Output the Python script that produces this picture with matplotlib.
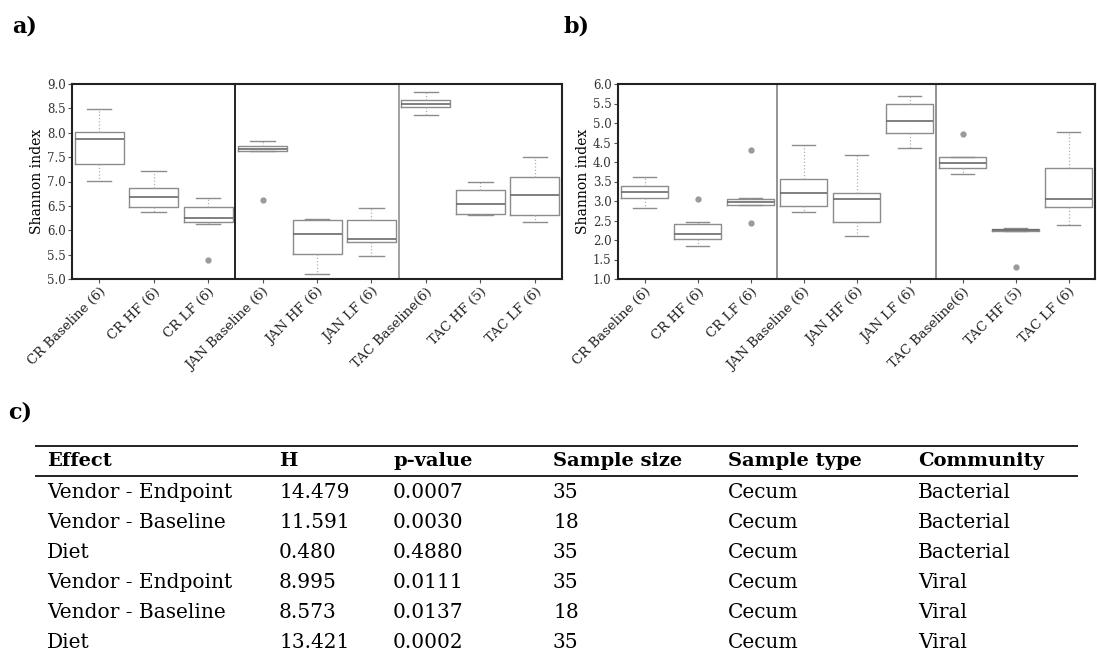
import matplotlib
matplotlib.use("Agg")
import matplotlib.pyplot as plt
from matplotlib.lines import Line2D

plt.rcParams['font.family'] = ['DejaVu Serif']

# group labels (same for both panels)
groups = ["CR Baseline (6)", "CR HF (6)", "CR LF (6)", "JAN Baseline (6)", "JAN HF (6)",
          "JAN LF (6)", "TAC Baseline(6)", "TAC HF (5)", "TAC LF (6)"]

# panel a) bacterial Shannon index - box summaries
a_whislo = [7.02, 6.38, 6.13, 7.62, 5.10, 5.48, 8.36, 6.32, 6.17]
a_q1 = [7.36, 6.48, 6.16, 7.63, 5.52, 5.75, 8.52, 6.34, 6.31]
a_med = [7.88, 6.69, 6.25, 7.67, 5.92, 5.83, 8.59, 6.53, 6.72]
a_q3 = [8.02, 6.87, 6.48, 7.72, 6.21, 6.21, 8.68, 6.83, 7.09]
a_whishi = [8.49, 7.22, 6.67, 7.84, 6.23, 6.45, 8.84, 6.98, 7.50]
a_fliers = [[], [], [5.38], [6.62], [], [], [], [], []]

# panel b) viral Shannon index
b_whislo = [2.81, 1.84, 2.89, 2.73, 2.11, 4.37, 3.70, 2.23, 2.38]
b_q1 = [3.08, 2.03, 2.89, 2.88, 2.46, 4.75, 3.85, 2.23, 2.85]
b_med = [3.24, 2.15, 2.97, 3.21, 3.04, 5.06, 3.98, 2.26, 3.04]
b_q3 = [3.39, 2.41, 3.05, 3.57, 3.21, 5.48, 4.14, 2.29, 3.85]
b_whishi = [3.61, 2.46, 3.07, 4.44, 4.17, 5.70, 4.14, 2.31, 4.78]
b_fliers = [[], [3.04], [4.31, 2.44], [], [], [], [4.73], [1.32], []]

# c) table
col_names = ["Effect", "H", "p-value", "Sample size", "Sample type", "Community"]
effects = ["Vendor - Endpoint", "Vendor - Baseline", "Diet",
           "Vendor - Endpoint", "Vendor - Baseline", "Diet"]
h_vals = ["14.479", "11.591", "0.480", "8.995", "8.573", "13.421"]
p_vals = ["0.0007", "0.0030", "0.4880", "0.0111", "0.0137", "0.0002"]
sizes = ["35", "18", "35", "35", "18", "35"]
sample_types = ["Cecum"] * 6
communities = ["Bacterial", "Bacterial", "Bacterial", "Viral", "Viral", "Viral"]

W, H = 1097, 655
fig = plt.figure(figsize=(W / 100, H / 100), dpi=100)


def px(x, y):
    return x / W, 1 - y / H


def boxpanel(rect, whislo, q1, med, q3, whishi, fliers, ylim, sep_colors):
    ax = fig.add_axes(rect)
    stats = []
    for i in range(len(groups)):
        stats.append(dict(whislo=whislo[i], q1=q1[i], med=med[i], q3=q3[i],
                          whishi=whishi[i], fliers=fliers[i]))
    ax.bxp(stats, positions=range(1, len(groups) + 1), widths=0.9,
           boxprops=dict(color="#8c8c8c", linewidth=1.0),
           medianprops=dict(color="#6a6a6a", linewidth=1.2),
           whiskerprops=dict(color="#b0b0b0", linewidth=0.9, linestyle=":"),
           capprops=dict(color="#8c8c8c", linewidth=1.0),
           flierprops=dict(marker="o", markersize=3.5, markerfacecolor="#9a9a9a",
                           markeredgecolor="#9a9a9a"))
    for xs, c in zip([3.5, 6.5], sep_colors):
        ax.axvline(xs, color=c, linewidth=1.3)
    ax.set_xlim(0.5, 9.5)
    ax.set_ylim(*ylim)
    yt = [ylim[0] + 0.5 * k for k in range(int((ylim[1] - ylim[0]) / 0.5) + 1)]
    ax.set_yticks(yt)
    ax.set_yticklabels(["%.1f" % v for v in yt], fontsize=8.5, color="#333333")
    ax.set_xticks(range(1, len(groups) + 1))
    ax.set_xticklabels(groups, rotation=45, ha="right", va="top",
                       rotation_mode="anchor", fontsize=9.5, color="#222222")
    ax.tick_params(length=3, width=0.8, pad=1.5, color="#555555")
    for s in ax.spines.values():
        s.set_linewidth(1.5)
        s.set_color("#222222")
    ax.set_ylabel("Shannon index", fontsize=10, labelpad=2)
    return ax


y0, y1 = 84, 279
l, b = px(72, 279)
boxpanel([l, b, (562 - 72) / W, (y1 - y0) / H], a_whislo, a_q1, a_med, a_q3,
         a_whishi, a_fliers, (5.0, 9.0), ["#111111", "#9a9a9a"])
l, b = px(618, 279)
boxpanel([l, b, (1095 - 618) / W, (y1 - y0) / H], b_whislo, b_q1, b_med, b_q3,
         b_whishi, b_fliers, (1.0, 6.0), ["#8a8a8a", "#8a8a8a"])

# panel letters
for lab, x, y in [("a)", 12, 26), ("b)", 563, 26), ("c)", 8, 412)]:
    fig.text(*px(x, y), lab, fontsize=16, fontweight="bold", va="center", ha="left")

# table
col_x = [47, 279, 393, 553, 728, 918]
header_y = 461
row_y = [492, 522, 552, 582, 612, 642]
columns = [effects, h_vals, p_vals, sizes, sample_types, communities]

for x, name in zip(col_x, col_names):
    fig.text(*px(x, header_y), name, fontsize=14, fontweight="bold",
             va="center", ha="left")
for x, col in zip(col_x, columns):
    for y, val in zip(row_y, col):
        fig.text(*px(x, y), val, fontsize=14.5, va="center", ha="left")

for yy in [446, 476]:
    xa, ya = px(36, yy)
    xb, _ = px(1077, yy)
    fig.add_artist(Line2D([xa, xb], [ya, ya], transform=fig.transFigure,
                          color="#222222", linewidth=1.4))

fig.savefig("out.png", dpi=100)
